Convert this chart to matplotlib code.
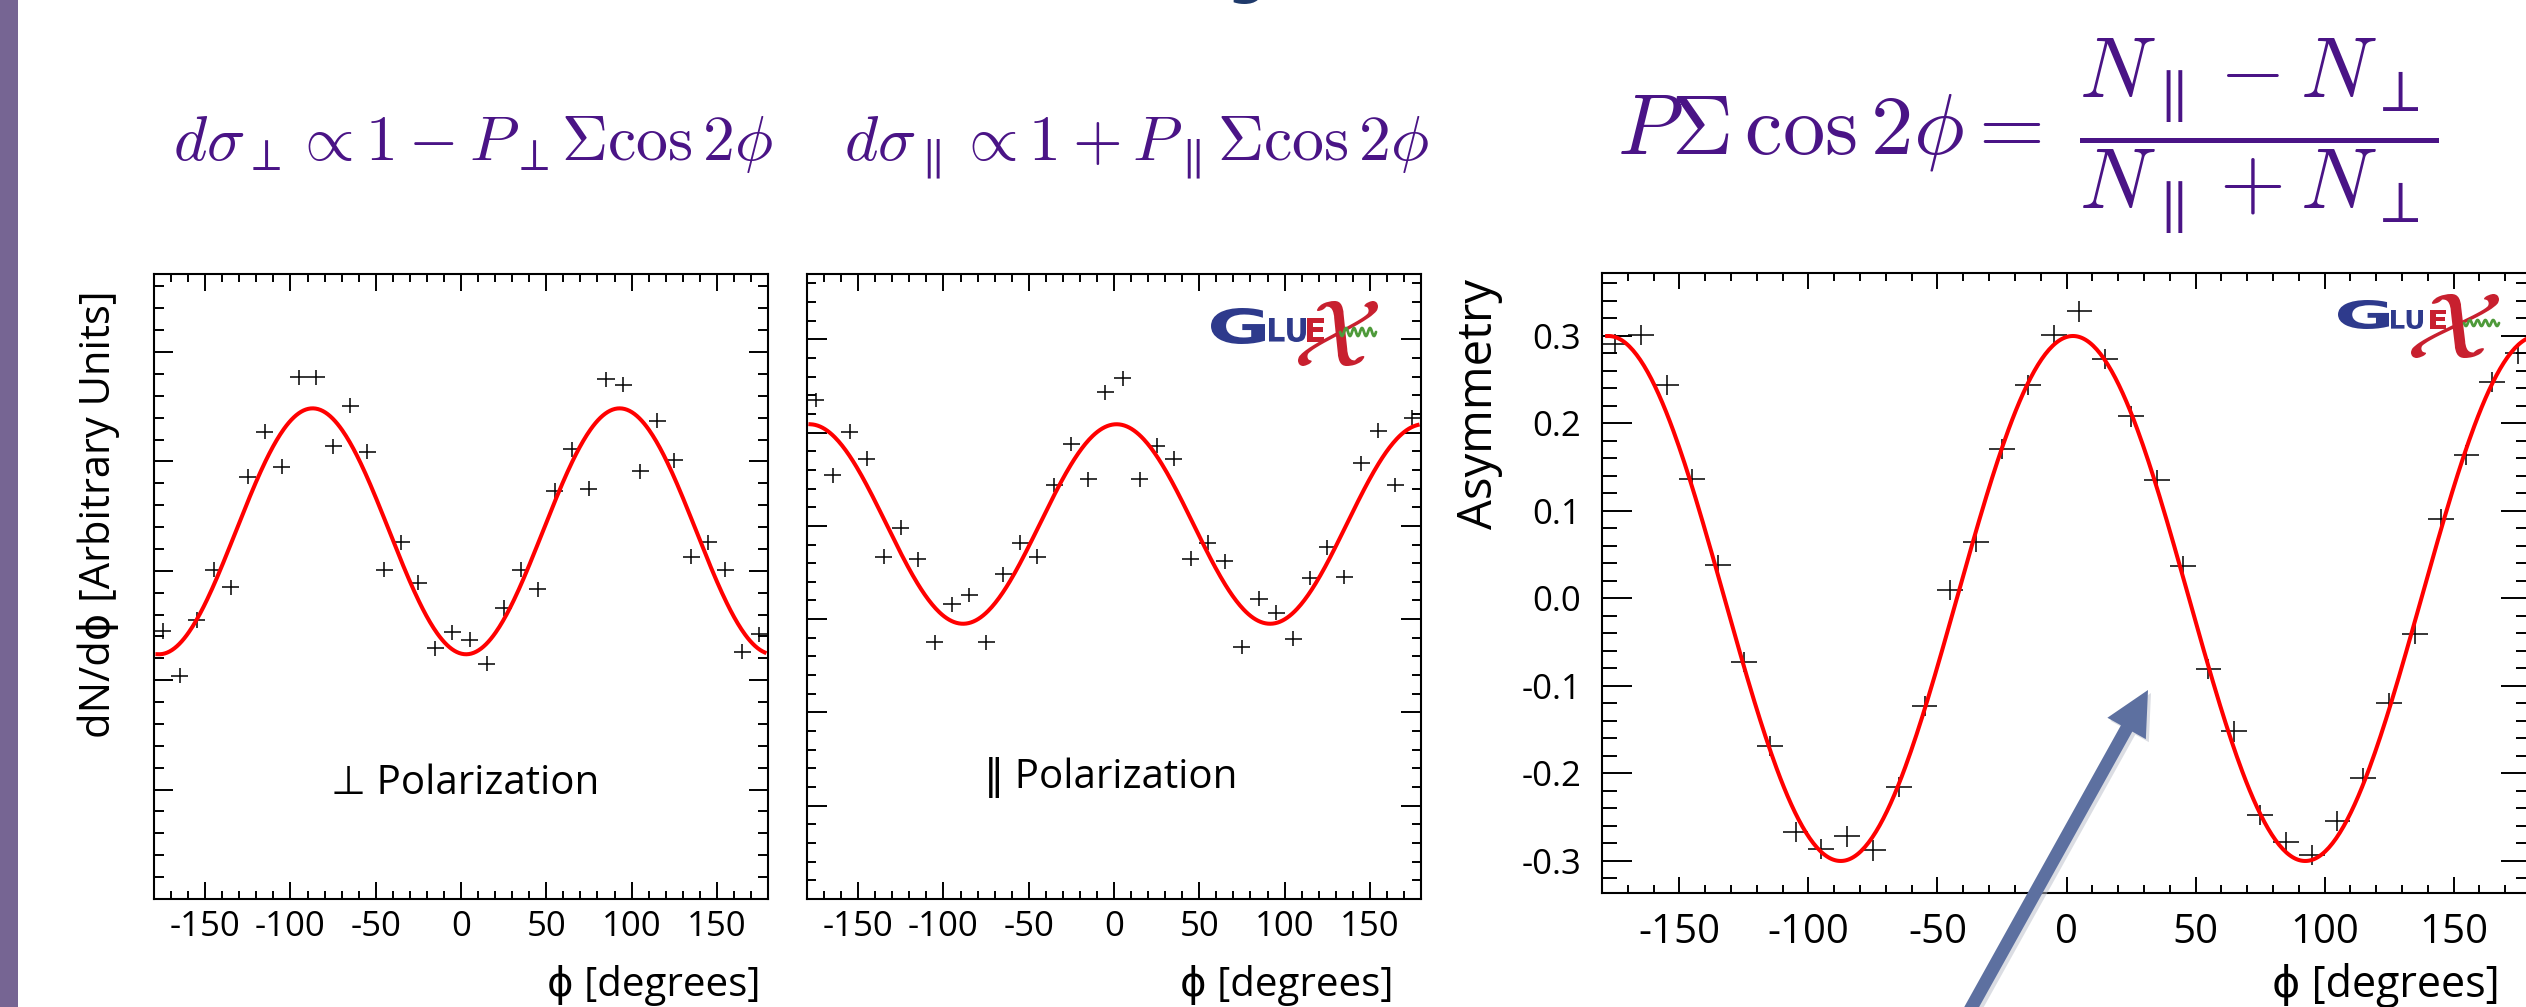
"""
Polarised photoproduction: phi distributions for the two beam polarisations
and the resulting beam asymmetry, slide-style layout (ROOT look).
"""

import numpy as np
import matplotlib
matplotlib.use("Agg")
import matplotlib.pyplot as plt
from matplotlib.ticker import MultipleLocator, FormatStrFormatter, NullFormatter
from matplotlib.textpath import TextPath
from matplotlib.font_manager import FontProperties
from matplotlib.patches import PathPatch, FancyArrow, Rectangle
from matplotlib.transforms import Affine2D

plt.rcParams['font.family'] = ['Open Sans', 'DejaVu Sans']
plt.rcParams['mathtext.fontset'] = 'cm'
plt.rcParams['axes.unicode_minus'] = False

W, H = 2526, 1007

# ---- data ----
phi_bins = [-175, -165, -155, -145, -135, -125, -115, -105, -95, -85, -75, -65,
            -55, -45, -35, -25, -15, -5, 5, 15, 25, 35, 45, 55,
            65, 75, 85, 95, 105, 115, 125, 135, 145, 155, 165, 175]

# perpendicular polarisation (arbitrary units)
perp_counts = [2.45, 2.04, 2.55, 3.01, 2.85, 3.86, 4.27, 3.95, 4.77, 4.77, 4.14, 4.51,
               4.09, 3.01, 3.26, 2.89, 2.29, 2.44, 2.37, 2.15, 2.66, 3.01, 2.83, 3.73,
               4.11, 3.75, 4.75, 4.70, 3.91, 4.37, 4.01, 3.13, 3.26, 3.01, 2.26, 2.42]
perp_err = 0.069

# parallel polarisation (arbitrary units)
para_counts = [5.35, 4.54, 5.01, 4.72, 3.67, 3.98, 3.64, 2.75, 3.16, 3.26, 2.75, 3.48,
               3.82, 3.67, 4.44, 4.88, 4.50, 5.43, 5.58, 4.50, 4.86, 4.72, 3.65, 3.82,
               3.62, 2.70, 3.22, 3.07, 2.79, 3.44, 3.77, 3.45, 4.67, 5.02, 4.44, 5.16]
para_err = 0.078

# asymmetry
asym_vals = [0.291, 0.301, 0.244, 0.136, 0.038, -0.073, -0.169, -0.267, -0.286, -0.272, -0.288, -0.215,
             -0.123, 0.010, 0.065, 0.171, 0.244, 0.301, 0.328, 0.274, 0.208, 0.135, 0.037, -0.081,
             -0.152, -0.247, -0.278, -0.293, -0.254, -0.205, -0.119, -0.041, 0.091, 0.164, 0.247, 0.280]
asym_err = 0.0115

bin_half = 5

# fit results: norm, P*Sigma, phi0 [deg]
perp_fit = (3.361, 0.3344, 3.0)
para_fit = (4.02, 0.266, 1.5)
asym_fit = (0.300, 2.5)
fit_range = (-178, 178)

PURPLE = '#4a1486'
RED = '#ff0000'


def px_axes(fig, l, t, r, b):
    return fig.add_axes([l / W, 1 - b / H, (r - l) / W, (b - t) / H])


def root_style(ax, ylim, ymaj, ymin, xlen, ylen):
    ax.set_xlim(-180, 180)
    ax.set_ylim(*ylim)
    ax.xaxis.set_major_locator(MultipleLocator(50))
    ax.xaxis.set_minor_locator(MultipleLocator(10))
    ax.yaxis.set_major_locator(MultipleLocator(ymaj))
    ax.yaxis.set_minor_locator(MultipleLocator(ymin))
    ax.tick_params(which='both', direction='in', top=True, right=True, width=1.4, color='black')
    ax.tick_params(axis='x', which='major', length=xlen[0])
    ax.tick_params(axis='x', which='minor', length=xlen[1])
    ax.tick_params(axis='y', which='major', length=ylen[0])
    ax.tick_params(axis='y', which='minor', length=ylen[1])
    for s in ax.spines.values():
        s.set_linewidth(1.5)


def fit_text(ax, s, box, color, prop):
    """draw text s as a path stretched into the pixel box (x0, x1, top, bottom)"""
    tp = TextPath((0, 0), s, prop=prop)
    ext = tp.get_extents()
    x0, x1, y0, y1 = box
    tr = (Affine2D().translate(-ext.x0, -ext.y0)
          .scale((x1 - x0) / ext.width, -(y1 - y0) / ext.height)
          .translate(x0, y1))
    ax.add_patch(PathPatch(tr.transform_path(tp), fc=color, ec='none', lw=0, zorder=5))


def gluex_logo(ax, g_box, lu_box, e_box, x_box, wave):
    bold = FontProperties(family='DejaVu Sans', weight='bold', size=40)
    fit_text(ax, 'G', g_box, '#2e3a8c', bold)
    fit_text(ax, 'LU', lu_box, '#2e3a8c', bold)
    fit_text(ax, 'E', e_box, '#c8202f', bold)
    fit_text(ax, r'$\mathcal{X}$', x_box, '#c8202f', FontProperties(size=40))
    wx0, wx1, wy, wa = wave
    t = np.linspace(0, 1, 80)
    ax.plot(wx0 + (wx1 - wx0) * t, wy + wa * np.sin(2 * np.pi * 4.5 * t),
            color='#4e9a3a', lw=2.0, zorder=6, solid_capstyle='round')


fig = plt.figure(figsize=(W / 100, H / 100), dpi=100)

ax1 = px_axes(fig, 154, 274, 768, 899)
ax2 = px_axes(fig, 807, 274, 1421, 899)
ax3 = px_axes(fig, 1602, 273, 2531, 893)

phi_fine = np.linspace(fit_range[0], fit_range[1], 500)
rad = np.deg2rad

# panel 1: perpendicular
root_style(ax1, (0, 5.713), 1, 0.2, (12.2, 5.8), (13.7, 7.2))
ax1.errorbar(phi_bins, perp_counts, xerr=bin_half, yerr=perp_err, fmt='none',
             ecolor='black', elinewidth=1.1, capsize=0)
n, ps, p0 = perp_fit
ax1.plot(phi_fine, n * (1 - ps * np.cos(2 * rad(phi_fine - p0))), color=RED, lw=2.9)
ax1.yaxis.set_major_formatter(NullFormatter())
ax1.tick_params(axis='x', labelsize=25, pad=8)
ax1.set_ylabel('dN/d\u03d5 [Arbitrary Units]', fontsize=30, loc='top')
ax1.yaxis.set_label_coords(-0.0554, 0.973)
ax1.set_xlabel('\u03d5 [degrees]', fontsize=29, loc='right')
ax1.xaxis.set_label_coords(0.987, -0.106)
ax1.text(0.5065, 0.168, '\u22a5 Polarization', transform=ax1.transAxes,
         ha='center', va='baseline', fontsize=29)

# panel 2: parallel
root_style(ax2, (0, 6.70), 1, 0.2, (12.2, 5.8), (14.4, 6.5))
ax2.errorbar(phi_bins, para_counts, xerr=bin_half, yerr=para_err, fmt='none',
             ecolor='black', elinewidth=1.1, capsize=0)
n, ps, p0 = para_fit
ax2.plot(phi_fine, n * (1 + ps * np.cos(2 * rad(phi_fine - p0))), color=RED, lw=2.9)
ax2.yaxis.set_major_formatter(NullFormatter())
ax2.tick_params(axis='x', labelsize=25, pad=8)
ax2.set_xlabel('\u03d5 [degrees]', fontsize=29, loc='right')
ax2.xaxis.set_label_coords(0.956, -0.106)
ax2.text(0.495, 0.178, '\u2016 Polarization', transform=ax2.transAxes,
         ha='center', va='baseline', fontsize=29)

# panel 3: asymmetry
root_style(ax3, (-0.3366, 0.372), 0.1, 0.02, (11.5, 5.8), (21.6, 10.8))
ax3.errorbar(phi_bins, asym_vals, xerr=bin_half, yerr=asym_err, fmt='none',
             ecolor='black', elinewidth=1.1, capsize=0)
amp, p0 = asym_fit
ax3.plot(phi_fine, amp * np.cos(2 * rad(phi_fine - p0)), color=RED, lw=2.9)
ax3.yaxis.set_major_formatter(FormatStrFormatter('%.1f'))
ax3.tick_params(axis='x', labelsize=29, pad=14)
ax3.tick_params(axis='y', labelsize=25, pad=15)
ax3.set_ylabel('Asymmetry', fontsize=34, loc='top')
ax3.yaxis.set_label_coords(-0.1066, 0.990)
ax3.set_xlabel('\u03d5 [degrees]', fontsize=31, loc='right')
ax3.xaxis.set_label_coords(0.9666, -0.113)

# overlay in pixel coordinates: slide decorations
axo = fig.add_axes([0, 0, 1, 1], zorder=10)
axo.set_xlim(0, W)
axo.set_ylim(H, 0)
axo.axis('off')

axo.add_patch(Rectangle((0, 0), 18, H, color='#766593', lw=0))
# descender of the slide title that is cut off at the top
fit_text(axo, 'g', (1230, 1262, -38, 4), '#1f3a6b',
         FontProperties(family='DejaVu Sans', weight='bold', size=40))

axo.text(173, 160, r'$d\sigma_{\perp}\propto 1-P_{\perp}\Sigma\cos 2\phi$',
         fontsize=46, color=PURPLE, ha='left', va='baseline')
axo.text(844, 160, r'$d\sigma_{\parallel}\propto 1+P_{\parallel}\Sigma\cos 2\phi$',
         fontsize=46, color=PURPLE, ha='left', va='baseline')
axo.text(1617, 155,
         r'$P\Sigma\,\cos 2\phi=\;\dfrac{N_{\parallel}-N_{\perp}}{N_{\parallel}+N_{\perp}}$',
         fontsize=61, color=PURPLE, ha='left', va='baseline')

gluex_logo(axo, (1211, 1265, 308, 344), (1269, 1306, 318, 342), (1307, 1324, 318, 342),
           (1298, 1378, 301, 366), (1340, 1376, 332, 4))
gluex_logo(axo, (2338, 2389, 300, 329), (2391, 2423, 310, 329), (2430, 2446, 310, 329),
           (2411, 2499, 294, 358), (2464, 2499, 323, 3))

# arrow pointing into the asymmetry plot
axo.add_patch(FancyArrow(1973, 1013, 178, -320, width=13, head_width=44, head_length=44,
                         length_includes_head=True, color='#b8bcc8', alpha=0.5, lw=0, zorder=7))
axo.add_patch(FancyArrow(1970, 1010, 178, -320, width=13, head_width=44, head_length=44,
                         length_includes_head=True, color='#5d70a0', lw=0, zorder=8))

fig.savefig('out.png', dpi=100)
